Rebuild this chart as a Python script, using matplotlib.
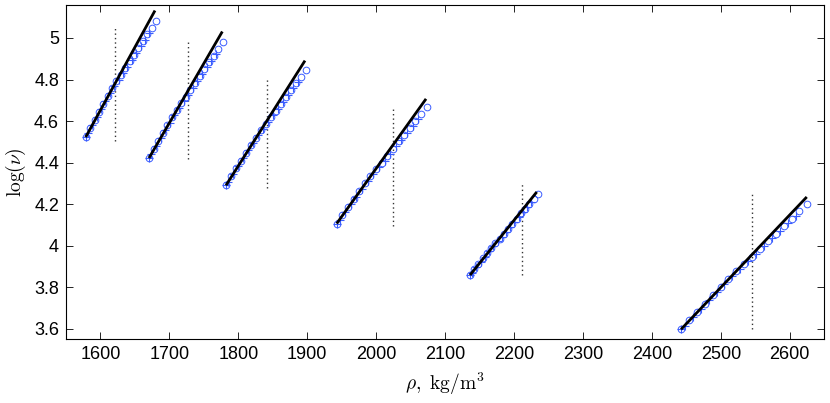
import matplotlib
matplotlib.use("Agg")
import matplotlib.pyplot as plt

# ---- data ----
fit_x0 = [1578.6, 1670.4, 1782.1, 1942.7, 2136.1, 2442.2]
fit_x1 = [1679.1, 1776.8, 1896.7, 2072.3, 2232.9, 2624.6]
fit_y0 = [4.523, 4.422, 4.291, 4.107, 3.859, 3.598]
fit_y1 = [5.132, 5.031, 4.891, 4.707, 4.259, 4.235]

dot_x = [1621.0, 1726.5, 1841.2, 2024.8, 2211.1, 2544.8]
dot_y0 = [4.502, 4.419, 4.280, 4.094, 3.859, 3.598]
dot_y1 = [5.051, 4.987, 4.814, 4.659, 4.304, 4.248]

circ_x1 = [1578.6, 1585.0, 1591.4, 1597.7, 1604.1, 1610.5, 1616.9, 1623.2, 1629.6, 1636.0, 1642.4, 1648.7, 1655.1, 1661.5, 1667.9, 1674.2, 1680.6]
circ_y1 = [4.523, 4.567, 4.605, 4.644, 4.683, 4.721, 4.757, 4.791, 4.820, 4.854, 4.887, 4.920, 4.953, 4.984, 5.017, 5.048, 5.080]
plus_x1 = [1578.6, 1581.8, 1588.2, 1594.6, 1600.9, 1607.3, 1613.7, 1620.1, 1626.4, 1632.8, 1639.2, 1645.6, 1651.9, 1658.3, 1664.7, 1671.1]
plus_y1 = [4.523, 4.541, 4.580, 4.618, 4.657, 4.695, 4.733, 4.767, 4.799, 4.830, 4.862, 4.895, 4.928, 4.960, 4.992, 5.024]

circ_x2 = [1670.4, 1677.1, 1683.8, 1690.5, 1697.2, 1703.8, 1710.5, 1717.2, 1723.9, 1730.6, 1737.3, 1744.0, 1750.7, 1757.3, 1764.0, 1770.7, 1777.4]
circ_y2 = [4.422, 4.465, 4.504, 4.542, 4.580, 4.618, 4.654, 4.688, 4.717, 4.751, 4.785, 4.818, 4.850, 4.882, 4.915, 4.947, 4.979]
plus_x2 = [1670.4, 1673.8, 1680.5, 1687.2, 1693.8, 1700.5, 1707.2, 1713.9, 1720.6, 1727.3, 1734.0, 1740.6, 1747.3, 1754.0, 1760.7, 1767.4]
plus_y2 = [4.422, 4.440, 4.478, 4.517, 4.555, 4.593, 4.630, 4.665, 4.696, 4.727, 4.760, 4.794, 4.826, 4.858, 4.890, 4.922]

circ_x3 = [1782.1, 1789.3, 1796.6, 1803.8, 1811.0, 1818.2, 1825.5, 1832.7, 1839.9, 1847.1, 1854.4, 1861.6, 1868.8, 1876.0, 1883.3, 1890.5, 1897.7]
circ_y3 = [4.291, 4.334, 4.372, 4.410, 4.448, 4.485, 4.520, 4.555, 4.584, 4.618, 4.651, 4.684, 4.717, 4.749, 4.782, 4.814, 4.846]
plus_x3 = [1782.1, 1785.7, 1793.0, 1800.2, 1807.4, 1814.6, 1821.9, 1829.1, 1836.3, 1843.5, 1850.8, 1858.0, 1865.2, 1872.4, 1879.7, 1886.9]
plus_y3 = [4.291, 4.308, 4.347, 4.385, 4.423, 4.460, 4.496, 4.531, 4.563, 4.594, 4.627, 4.660, 4.693, 4.725, 4.758, 4.790]

circ_x4 = [1942.7, 1950.9, 1959.0, 1967.2, 1975.4, 1983.5, 1991.7, 1999.8, 2008.0, 2016.2, 2024.3, 2032.5, 2040.7, 2048.8, 2057.0, 2065.1, 2073.3]
circ_y4 = [4.107, 4.149, 4.187, 4.224, 4.262, 4.300, 4.336, 4.371, 4.400, 4.434, 4.468, 4.502, 4.535, 4.568, 4.601, 4.634, 4.667]
plus_x4 = [1942.7, 1946.8, 1955.0, 1963.1, 1971.3, 1979.5, 1987.6, 1995.8, 2003.9, 2012.1, 2020.3, 2028.4, 2036.6, 2044.7, 2052.9, 2061.1]
plus_y4 = [4.107, 4.124, 4.162, 4.200, 4.237, 4.275, 4.312, 4.347, 4.379, 4.410, 4.444, 4.478, 4.511, 4.544, 4.577, 4.610]

circ_x5 = [2136.1, 2142.2, 2148.4, 2154.5, 2160.7, 2166.8, 2172.9, 2179.1, 2185.2, 2191.3, 2197.5, 2203.6, 2209.8, 2215.9, 2222.0, 2228.2, 2234.3]
circ_y5 = [3.859, 3.888, 3.914, 3.939, 3.965, 3.990, 4.015, 4.035, 4.059, 4.083, 4.107, 4.131, 4.156, 4.179, 4.202, 4.227, 4.250]
plus_x5 = [2136.1, 2139.2, 2145.3, 2151.4, 2157.6, 2163.7, 2169.9, 2176.0, 2182.1, 2188.3, 2194.4, 2200.5, 2206.7, 2212.8, 2219.0, 2225.1]
plus_y5 = [3.859, 3.870, 3.897, 3.923, 3.948, 3.974, 3.999, 4.021, 4.043, 4.067, 4.091, 4.115, 4.140, 4.164, 4.187, 4.211]

circ_x6 = [2442.2, 2453.7, 2465.1, 2476.6, 2488.0, 2499.5, 2510.9, 2522.4, 2533.8, 2545.3, 2556.8, 2568.2, 2579.7, 2591.1, 2602.6, 2614.0, 2625.5]
circ_y6 = [3.598, 3.642, 3.682, 3.722, 3.762, 3.802, 3.840, 3.878, 3.911, 3.948, 3.985, 4.022, 4.058, 4.095, 4.131, 4.167, 4.203]
plus_x6 = [2442.2, 2448.0, 2459.4, 2470.9, 2482.3, 2493.8, 2505.2, 2516.7, 2528.1, 2539.6, 2551.0, 2562.5, 2574.0, 2585.4, 2596.9, 2608.3]
plus_y6 = [3.598, 3.616, 3.658, 3.698, 3.738, 3.778, 3.817, 3.855, 3.890, 3.925, 3.962, 3.999, 4.036, 4.072, 4.109, 4.145]

circ_x = [circ_x1, circ_x2, circ_x3, circ_x4, circ_x5, circ_x6]
circ_y = [circ_y1, circ_y2, circ_y3, circ_y4, circ_y5, circ_y6]
plus_x = [plus_x1, plus_x2, plus_x3, plus_x4, plus_x5, plus_x6]
plus_y = [plus_y1, plus_y2, plus_y3, plus_y4, plus_y5, plus_y6]

x_ticks = [1600, 1700, 1800, 1900, 2000, 2100, 2200, 2300, 2400, 2500, 2600]
y_ticks = [3.6, 3.8, 4.0, 4.2, 4.4, 4.6, 4.8, 5.0]
y_tick_labels = ["3.6", "3.8", "4", "4.2", "4.4", "4.6", "4.8", "5"]

# ---- styling ----
plt.rcParams['font.family'] = ['Liberation Sans', 'DejaVu Sans']
plt.rcParams['mathtext.fontset'] = 'cm'
blue = '#3a5cff'

fig = plt.figure(figsize=(8.30, 4.03), dpi=100)
ax = fig.add_axes([0.0795, 0.158, 0.9136, 0.8303])

for i in range(6):
    ax.plot(circ_x[i], circ_y[i], linestyle='none', marker='o', markersize=4.8,
            markerfacecolor='none', markeredgecolor=blue, markeredgewidth=0.7, zorder=2)
    ax.plot(plus_x[i], plus_y[i], linestyle='none', marker='+', markersize=5.5,
            color=blue, markeredgewidth=0.8, zorder=2)
    ax.plot([fit_x0[i], fit_x1[i]], [fit_y0[i], fit_y1[i]], color='black', lw=2.0,
            solid_capstyle='butt', zorder=3)
    ax.plot([dot_x[i], dot_x[i]], [dot_y0[i], dot_y1[i]], color='#333333', lw=1.0,
            linestyle=(0, (1, 2.2)), zorder=1)

ax.set_xlim(1550, 2650)
ax.set_ylim(3.55, 5.16)
ax.set_xticks(x_ticks)
ax.set_yticks(y_ticks)
ax.set_yticklabels(y_tick_labels)
ax.tick_params(direction='in', top=True, right=True, length=5, width=0.6,
               labelsize=13, pad=5, colors='black')
for sp in ax.spines.values():
    sp.set_linewidth(0.8)

ax.set_xlabel(r'$\rho,\ \mathrm{kg/m^3}$', fontsize=14, labelpad=5)
ax.set_ylabel(r'$\log(\nu)$', fontsize=14, labelpad=4)

fig.savefig('out.png', dpi=100)
